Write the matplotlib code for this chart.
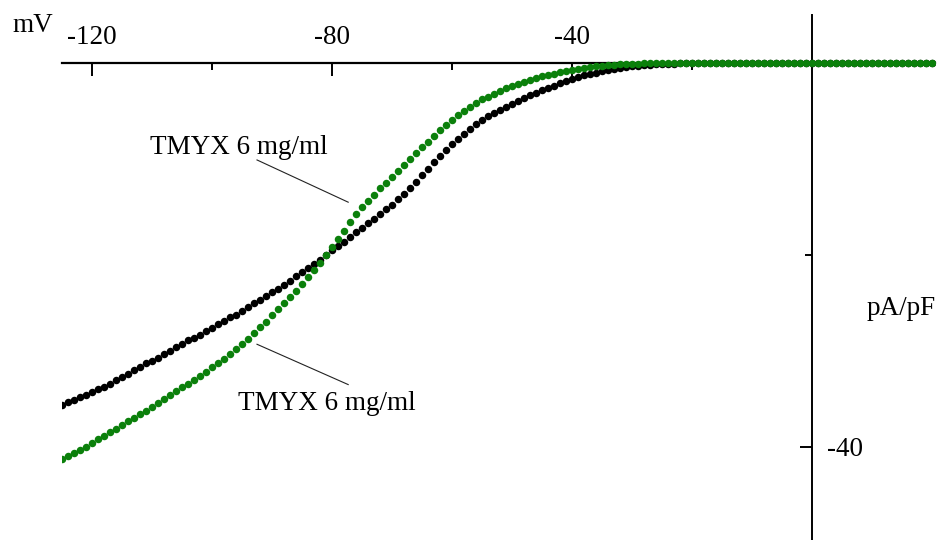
import matplotlib
matplotlib.use("Agg")
import matplotlib.pyplot as plt
from matplotlib.ticker import FixedLocator, FixedFormatter

plt.rcParams['font.family'] = ['Liberation Serif', 'DejaVu Serif']

# Voltage (mV), 1 mV steps from -125 to 20
voltage = list(range(-125, 21))

# Current density (pA/pF) - control (black)
control = [
    -35.6, -35.3, -35.1, -34.8, -34.6, -34.3, -34.0, -33.7, -33.4, -33.0,
    -32.7, -32.4, -32.0, -31.7, -31.3, -31.0, -30.7, -30.3, -30.0, -29.6,
    -29.3, -28.9, -28.6, -28.3, -27.9, -27.6, -27.2, -26.9, -26.5, -26.2,
    -25.8, -25.4, -25.0, -24.7, -24.3, -23.9, -23.5, -23.1, -22.7, -22.2,
    -21.8, -21.4, -20.9, -20.5, -20.0, -19.5, -19.05, -18.6, -18.1, -17.65,
    -17.2, -16.7, -16.2, -15.7, -15.25, -14.75, -14.2, -13.65, -13.05, -12.35,
    -11.65, -11.0, -10.35, -9.7, -9.05, -8.45, -7.9, -7.35, -6.85, -6.4,
    -5.95, -5.55, -5.2, -4.85, -4.55, -4.25, -3.95, -3.65, -3.35, -3.1,
    -2.85, -2.6, -2.35, -2.1, -1.9, -1.7, -1.5, -1.3, -1.15, -1.0,
    -0.85, -0.72, -0.6, -0.5, -0.42, -0.35, -0.28, -0.23, -0.18, -0.14,
    -0.11, -0.08, -0.06, -0.04, -0.03, -0.02, -0.01, 0.0, 0.0, 0.0,
    0.0, 0.0, 0.0, 0.0, 0.0, 0.0, 0.0, 0.0, 0.0, 0.0,
    0.0, 0.0, 0.0, 0.0, 0.0, 0.0, 0.0, 0.0, 0.0, 0.0,
    0.0, 0.0, 0.0, 0.0, 0.0, 0.0, 0.0, 0.0, 0.0, 0.0,
    0.0, 0.0, 0.0, 0.0, 0.0, 0.0,
]

# Current density (pA/pF) - TMYX 6 mg/ml (green)
tmyx = [
    -41.3, -40.95, -40.6, -40.3, -39.95, -39.6, -39.2, -38.85, -38.45, -38.1,
    -37.7, -37.3, -36.95, -36.55, -36.2, -35.8, -35.4, -35.0, -34.6, -34.2,
    -33.8, -33.4, -33.0, -32.6, -32.15, -31.7, -31.25, -30.8, -30.3, -29.8,
    -29.3, -28.75, -28.15, -27.55, -26.95, -26.3, -25.65, -25.0, -24.35, -23.7,
    -23.0, -22.3, -21.55, -20.8, -20.0, -19.2, -18.35, -17.5, -16.6, -15.75,
    -15.0, -14.35, -13.7, -13.05, -12.45, -11.85, -11.25, -10.65, -10.05, -9.4,
    -8.8, -8.2, -7.6, -7.0, -6.45, -5.9, -5.45, -5.0, -4.6, -4.2,
    -3.8, -3.5, -3.2, -2.9, -2.65, -2.4, -2.2, -2.0, -1.8, -1.6,
    -1.4, -1.25, -1.1, -0.95, -0.82, -0.7, -0.6, -0.5, -0.42, -0.35,
    -0.28, -0.22, -0.17, -0.13, -0.1, -0.08, -0.06, -0.04, -0.03, -0.02,
    -0.01, 0.0, 0.0, 0.0, 0.0, 0.0, 0.0, 0.0, 0.0, 0.0,
    0.0, 0.0, 0.0, 0.0, 0.0, 0.0, 0.0, 0.0, 0.0, 0.0,
    0.0, 0.0, 0.0, 0.0, 0.0, 0.0, 0.0, 0.0, 0.0, 0.0,
    0.0, 0.0, 0.0, 0.0, 0.0, 0.0, 0.0, 0.0, 0.0, 0.0,
    0.0, 0.0, 0.0, 0.0, 0.0, 0.0,
]

x_major = [-120, -80, -40]
x_major_labels = ["-120", "-80", "-40"]
x_minor = [-100, -60, -20]
y_major = [-40]
y_major_labels = ["-40"]
y_minor = [-20]

FS = 19.5
W, H = 941, 540
fig = plt.figure(figsize=(W / 100, H / 100), dpi=100)
ax = fig.add_axes([62 / W, 0.0, (935 - 62) / W, 525 / H])
ax.set_xlim(-125, 20.5)
ax.set_ylim(-49.69, 5.0)

ax.plot(voltage, control, linestyle='none', marker='o', markersize=5.4,
        markeredgewidth=0, color='black', zorder=3)
ax.plot(voltage, tmyx, linestyle='none', marker='o', markersize=5.4,
        markeredgewidth=0, color='#0b800b', zorder=4)

for s in ['left', 'bottom']:
    ax.spines[s].set_visible(False)
ax.spines['top'].set_position(('data', 0))
ax.spines['right'].set_position(('data', 0))
ax.spines['top'].set_linewidth(1.6)
ax.spines['right'].set_linewidth(1.4)
ax.spines['top'].set_zorder(2)
ax.spines['right'].set_zorder(2)

ax.xaxis.tick_top()
ax.xaxis.set_major_locator(FixedLocator(x_major))
ax.xaxis.set_major_formatter(FixedFormatter(x_major_labels))
ax.xaxis.set_minor_locator(FixedLocator(x_minor))
ax.tick_params(axis='x', which='major', direction='in', length=9, width=1.4,
               pad=9, labelsize=FS)
ax.tick_params(axis='x', which='minor', direction='in', length=5, width=1.4)

ax.yaxis.tick_right()
ax.yaxis.set_major_locator(FixedLocator(y_major))
ax.yaxis.set_major_formatter(FixedFormatter(y_major_labels))
ax.yaxis.set_minor_locator(FixedLocator(y_minor))
ax.tick_params(axis='y', which='major', direction='in', length=9, width=1.4,
               pad=11, labelsize=FS)
ax.tick_params(axis='y', which='minor', direction='in', length=5, width=1.4)

fig.text(12 / W, 1 - 32 / H, "mV", fontsize=FS, ha='left', va='baseline')
fig.text(867 / W, 1 - 315 / H, "pA/pF", fontsize=FS, ha='left', va='baseline')

# annotations
ax.text(-110.3, -9.48, "TMYX 6 mg/ml", fontsize=FS, ha='left', va='baseline')
ax.plot([-92.5, -77.3], [-10.1, -14.5], color='#222222', linewidth=0.8, zorder=2)
ax.text(-95.7, -36.1, "TMYX 6 mg/ml", fontsize=FS, ha='left', va='baseline')
ax.plot([-92.5, -77.3], [-29.3, -33.5], color='#222222', linewidth=0.8, zorder=2)

fig.savefig("out.png", dpi=100)
